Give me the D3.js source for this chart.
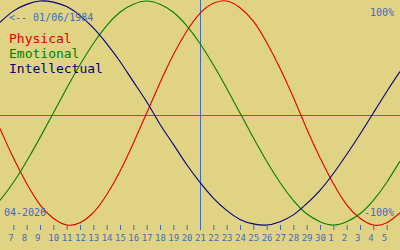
<!DOCTYPE html>
<html>
<head>
<meta charset="utf-8">
<script src="https://cdn.jsdelivr.net/npm/d3@7"></script>
<style>
  body { margin: 0; background: #e1d384; }
  svg { display: block; }
  text { font-family: "DejaVu Sans Mono", monospace; }
</style>
</head>
<body>
<div class="bioChart"></div>
<script>
// day labels under the ticks (index 1..29)
const dayLabels = ['7','8','9','10','11','12','13','14','15','16','17','18','19','20','21','22',
  '23','24','25','26','27','28','29','30','1','2','3','4','5']

// values per day, index 0..30 (-1..1)
const physical = [-0.14,-0.40,-0.63,-0.82,-0.94,-1.00,-0.98,-0.89,-0.73,-0.52,-0.27,0.00,0.27,0.52,0.73,0.89,
  0.98,1.00,0.94,0.82,0.63,0.40,0.14,-0.14,-0.40,-0.63,-0.82,-0.94,-1.00,-0.98,-0.89]
const emotional = [-0.78,-0.62,-0.43,-0.22,0.00,0.22,0.43,0.62,0.78,0.90,0.97,1.00,0.97,0.90,0.78,0.62,
  0.43,0.22,0.00,-0.22,-0.43,-0.62,-0.78,-0.90,-0.97,-1.00,-0.97,-0.90,-0.78,-0.62,-0.43]
const intellectual = [0.81,0.91,0.97,1.00,0.99,0.95,0.87,0.76,0.62,0.46,0.28,0.10,-0.10,-0.28,-0.46,-0.62,
  -0.76,-0.87,-0.95,-0.99,-1.00,-0.97,-0.91,-0.81,-0.69,-0.54,-0.37,-0.19,0.00,0.19,0.37]

const todayIndex = 15
const birthText = '<-- 01/06/1984'
const monthText = '04-2026'

const width = 400, height = 250
const blue = '#3c6cc0'

const svg = d3.select('.bioChart')
  .append('svg')
  .attr('width', width)
  .attr('height', height)

svg.append('rect').attr('width', width).attr('height', height).attr('fill', '#e1d384')

// scales
const x = d3.scaleLinear().domain([0, 30]).range([0, width])
const y = d3.scaleLinear().domain([-1, 1]).range([225, 1])

// zero line and today line
svg.append('line')
  .attr('x1', 0).attr('x2', width)
  .attr('y1', 115.5).attr('y2', 115.5)
  .attr('stroke', blue)

svg.append('line')
  .attr('x1', x(todayIndex) + 0.5).attr('x2', x(todayIndex) + 0.5)
  .attr('y1', 0).attr('y2', 230)
  .attr('stroke', blue)

// bottom ticks + day labels
const axis = d3.axisBottom(x)
  .tickValues(d3.range(1, 30))
  .tickSize(6)
  .tickFormat(d => dayLabels[d - 1])

const gAxis = svg.append('g')
  .attr('transform', 'translate(0,224)')
  .call(axis)
gAxis.select('.domain').remove()
gAxis.selectAll('.tick line').attr('stroke', blue).attr('y1', 1)
gAxis.selectAll('.tick text')
  .attr('fill', blue)
  .attr('font-size', 9)
  .attr('font-family', '"DejaVu Sans Mono", monospace')
  .attr('text-anchor', 'start')
  .attr('x', -5.5)
  .attr('y', 17)
  .attr('dy', 0)

// curves
const line = d3.line()
  .x((d, i) => x(i))
  .y(d => y(d))
  .curve(d3.curveNatural)

const series = [
  {name: 'Physical', values: physical, color: '#e00000'},
  {name: 'Emotional', values: emotional, color: '#008000'},
  {name: 'Intellectual', values: intellectual, color: '#000080'}
]

series.forEach(s => {
  svg.append('path')
    .datum(s.values)
    .attr('d', line)
    .attr('fill', 'none')
    .attr('stroke', s.color)
    .attr('stroke-width', 1.1)
})

// legend
svg.selectAll('.legend')
  .data(series)
  .enter().append('text')
  .attr('x', 9)
  .attr('y', (d, i) => 43 + i * 15)
  .attr('font-size', 13)
  .attr('fill', d => d.color)
  .text(d => d.name)

// corner texts
svg.append('text').attr('x', 9).attr('y', 21).attr('font-size', 10).attr('fill', blue).text(birthText)
svg.append('text').attr('x', 394).attr('y', 16).attr('font-size', 10).attr('fill', blue)
  .attr('text-anchor', 'end').text('100%')
svg.append('text').attr('x', 394).attr('y', 216).attr('font-size', 10).attr('fill', blue)
  .attr('text-anchor', 'end').text('-100%')
svg.append('text').attr('x', 4).attr('y', 216).attr('font-size', 10).attr('fill', blue).text(monthText)
</script>
</body>
</html>
